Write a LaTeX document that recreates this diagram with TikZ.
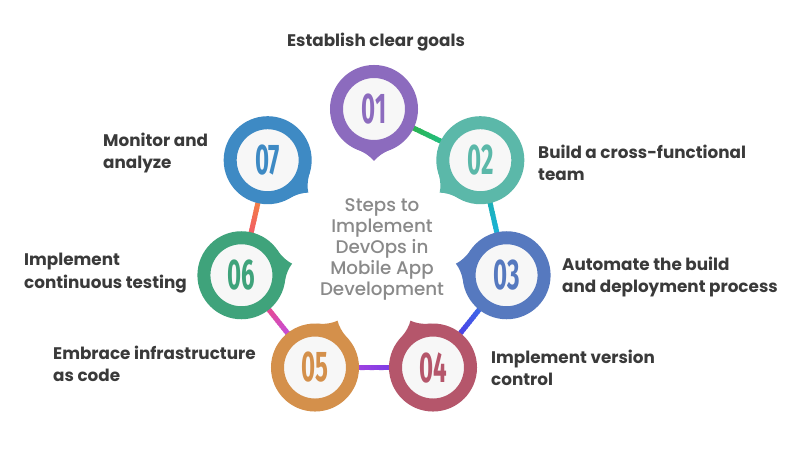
\documentclass[tikz,border=0pt]{standalone}
\usepackage{fontspec}
\setmainfont{Poppins}
\newfontfamily\numfont{Fira Sans}
\newfontfamily\titlefont{Poppins}[UprightFont=* Medium]
\usetikzlibrary{calc}
\pgfdeclarelayer{bg}
\pgfsetlayers{bg,main}
\definecolor{ringone}{HTML}{8C6BBE}
\definecolor{ringtwo}{HTML}{5BB8A9}
\definecolor{ringthree}{HTML}{5679BF}
\definecolor{ringfour}{HTML}{B5566B}
\definecolor{ringfive}{HTML}{D4904B}
\definecolor{ringsix}{HTML}{3FA37B}
\definecolor{ringseven}{HTML}{3E8AC4}
\definecolor{innerfill}{HTML}{F7F7F7}
\definecolor{labelgray}{HTML}{3A3A3A}
\definecolor{titlegray}{HTML}{8A8A8A}
\definecolor{gA}{HTML}{2EB24C}
\definecolor{gB}{HTML}{1FBF84}
\definecolor{gC}{HTML}{1BB0B4}
\definecolor{gD}{HTML}{1BB2DA}
\definecolor{gE}{HTML}{3A6CE8}
\definecolor{gF}{HTML}{4E3EE6}
\definecolor{gG}{HTML}{7B3CE6}
\definecolor{gH}{HTML}{A242E0}
\definecolor{gI}{HTML}{C24EDE}
\definecolor{gJ}{HTML}{EA4A8C}
\definecolor{gK}{HTML}{F25868}
\definecolor{gL}{HTML}{F28242}
\newcommand\numtext[1]{\scalebox{0.56}[1]{\numfont\bfseries\fontsize{43}{43}\selectfont #1}}
\newcommand\ringtip[3]{%
  \fill[#3] ($(#1.center)+({#2-24}:39pt)$) -- ($(#1.center)+({#2-24}:43.6pt)$)
    .. controls ($(#1.center)+({#2-10}:45pt)$) and ($(#1.center)+({#2-4}:48pt)$) .. ($(#1.center)+({#2}:52pt)$)
    .. controls ($(#1.center)+({#2+4}:48pt)$) and ($(#1.center)+({#2+10}:45pt)$) .. ($(#1.center)+({#2+24}:43.6pt)$)
    -- ($(#1.center)+({#2+24}:39pt)$) -- cycle;}
\newcommand\gradline[4]{%
  \coordinate (ga) at ($(#1)!40pt!(#2)$);
  \coordinate (gb) at ($(#2)!40pt!(#1)$);
  \foreach \i in {0,...,11}{%
    \pgfmathsetmacro\ta{\i/12}
    \pgfmathsetmacro\tb{min(1,(\i+1.4)/12)}
    \pgfmathtruncatemacro\m{100-100*(\i+0.5)/12}
    \draw[line width=5pt, line cap=butt, color=#3!\m!#4] ($(ga)!\ta!(gb)$) -- ($(ga)!\tb!(gb)$);
  }}
\tikzset{
  ring/.style={circle, draw=#1, text=#1, line width=13pt, fill=innerfill, minimum size=75pt, inner sep=0pt},
  steplabel/.style={font=\bfseries\fontsize{16.8}{22.5}\selectfont, text=labelgray, align=left, inner sep=0pt, anchor=west},
  titletext/.style={font=\titlefont\fontsize{18.3}{21}\selectfont, text=titlegray, align=center, inner sep=0pt}
}
\begin{document}
\begin{tikzpicture}[x=1pt,y=1pt]
\useasboundingbox (0,0) rectangle (803,454);
\coordinate (C) at (374,209);
\node[ring=ringone]   (n1) at ($(C)+(90:136pt)$) {\numtext{01}};
\node[ring=ringtwo]   (n2) at ($(C)+(38.571:136pt)$) {\numtext{02}};
\node[ring=ringthree] (n3) at ($(C)+(-12.857:136pt)$) {\numtext{03}};
\node[ring=ringfour]  (n4) at ($(C)+(-64.286:136pt)$) {\numtext{04}};
\node[ring=ringfive]  (n5) at ($(C)+(-115.714:136pt)$) {\numtext{05}};
\node[ring=ringsix]   (n6) at ($(C)+(-167.143:136pt)$) {\numtext{06}};
\node[ring=ringseven] (n7) at ($(C)+(141.429:136pt)$) {\numtext{07}};
\ringtip{n1}{270}{ringone}
\ringtip{n2}{218.571}{ringtwo}
\ringtip{n3}{167.143}{ringthree}
\ringtip{n4}{115.714}{ringfour}
\ringtip{n5}{64.286}{ringfive}
\ringtip{n6}{12.857}{ringsix}
\ringtip{n7}{-38.571}{ringseven}
\begin{pgfonlayer}{bg}
\fill[white] (0,0) rectangle (803,454);
\gradline{n1}{n2}{gA}{gB}
\gradline{n2}{n3}{gC}{gD}
\gradline{n3}{n4}{gE}{gF}
\gradline{n4}{n5}{gG}{gH}
\gradline{n5}{n6}{gI}{gJ}
\gradline{n6}{n7}{gK}{gL}
\end{pgfonlayer}
\node[steplabel, anchor=center] (t1) at (376,412) {Establish clear goals};
\node[steplabel] (t2) at (538,291) {Build a cross-functional\\team};
\node[steplabel] (t3) at (562,177) {Automate the build\\and deployment process};
\node[steplabel] (t4) at (491,86) {Implement version\\control};
\node[steplabel] (t5) at (53,90) {Embrace infrastructure\\as code};
\node[steplabel] (t6) at (24,181) {Implement\\continuous testing};
\node[steplabel] (t7) at (103,301) {Monitor and\\analyze};
\node[titletext] (title) at (382,205) {Steps to\\Implement\\DevOps in\\Mobile App\\Development};
\end{tikzpicture}
\end{document}
